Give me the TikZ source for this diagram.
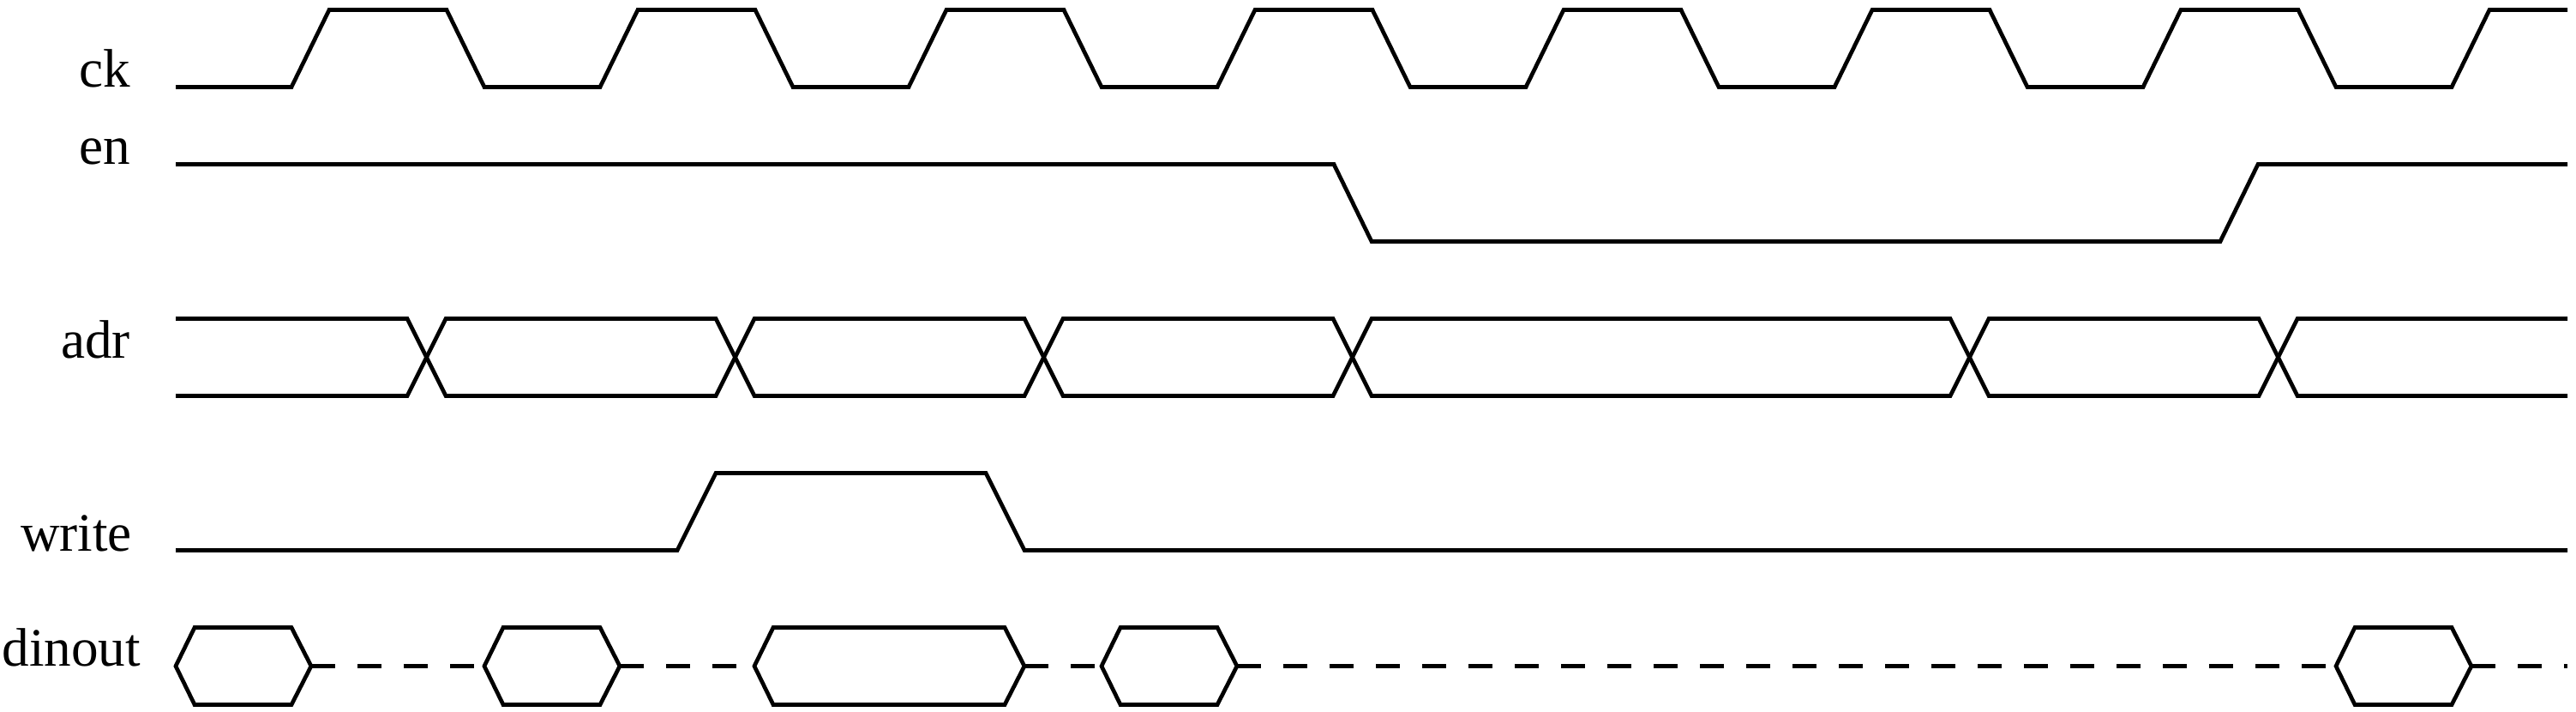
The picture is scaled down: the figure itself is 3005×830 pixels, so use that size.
\documentclass[tikz,border=0pt]{standalone}
\usepackage{fontspec}
\setmainfont{Liberation Serif}
\tikzset{
  wave/.style={draw=black,line width=2.35pt,line join=miter,line cap=butt},
  gapline/.style={wave,dash pattern=on 14pt off 13pt},
  siglabel/.style={anchor=base east,inner sep=0pt,outer sep=0pt,text=black,font=\fontsize{31.6pt}{36pt}\selectfont}
}
\begin{document}
\begin{tikzpicture}[x=0.5pt,y=-0.5pt]
\useasboundingbox[fill=white] (0,0) rectangle (3005,830);
% labels
\node[siglabel] (lck) at (152,101.7) {ck};
\node[siglabel] (len) at (152,191.7) {en};
\node[siglabel] (ladr) at (152,417.2) {adr};
\node[siglabel] (lwrite) at (154,642.2) {write};
\node[siglabel] (ldinout) at (164,776.7) {dinout};
% ck
\draw[wave] (205,101.5) -- (340,101.5) -- (384,11.5) -- (521,11.5) -- (565,101.5)
 -- (700,101.5) -- (744,11.5) -- (881,11.5) -- (925,101.5)
 -- (1060,101.5) -- (1104,11.5) -- (1241,11.5) -- (1285,101.5)
 -- (1420,101.5) -- (1464,11.5) -- (1601,11.5) -- (1645,101.5)
 -- (1780,101.5) -- (1824,11.5) -- (1961,11.5) -- (2005,101.5)
 -- (2140,101.5) -- (2184,11.5) -- (2321,11.5) -- (2365,101.5)
 -- (2500,101.5) -- (2544,11.5) -- (2681,11.5) -- (2725,101.5)
 -- (2860,101.5) -- (2904,11.5) -- (2995,11.5);
% en
\draw[wave] (205,191.5) -- (1556,191.5) -- (1600,281.5) -- (2590,281.5) -- (2634,191.5) -- (2995,191.5);
% adr
\draw[wave] (205,371.5) -- (475,371.5) -- (520,461.5) -- (835,461.5) -- (880,371.5) -- (1195,371.5) -- (1240,461.5)
 -- (1555,461.5) -- (1600,371.5) -- (2275,371.5) -- (2320,461.5) -- (2635,461.5) -- (2680,371.5) -- (2995,371.5);
\draw[wave] (205,461.5) -- (475,461.5) -- (520,371.5) -- (835,371.5) -- (880,461.5) -- (1195,461.5) -- (1240,371.5)
 -- (1555,371.5) -- (1600,461.5) -- (2275,461.5) -- (2320,371.5) -- (2635,371.5) -- (2680,461.5) -- (2995,461.5);
% write
\draw[wave] (205,641.5) -- (790,641.5) -- (835,551.5) -- (1150,551.5) -- (1195,641.5) -- (2995,641.5);
% dinout
\draw[wave] (205,776.5) -- (227,731.5) -- (340,731.5) -- (363,776.5) -- (340,821.5) -- (227,821.5) -- cycle;
\draw[wave] (565,776.5) -- (587,731.5) -- (700,731.5) -- (723,776.5) -- (700,821.5) -- (587,821.5) -- cycle;
\draw[wave] (880,776.5) -- (902,731.5) -- (1172,731.5) -- (1195,776.5) -- (1172,821.5) -- (902,821.5) -- cycle;
\draw[wave] (1285,776.5) -- (1307,731.5) -- (1420,731.5) -- (1443,776.5) -- (1420,821.5) -- (1307,821.5) -- cycle;
\draw[wave] (2725,776.5) -- (2747,731.5) -- (2860,731.5) -- (2883,776.5) -- (2860,821.5) -- (2747,821.5) -- cycle;
\draw[gapline] (363,776.5) -- (565,776.5);
\draw[gapline] (723,776.5) -- (880,776.5);
\draw[gapline] (1195,776.5) -- (1285,776.5);
\draw[gapline] (1443,776.5) -- (2725,776.5);
\draw[gapline] (2883,776.5) -- (2995,776.5);
\end{tikzpicture}
\end{document}
